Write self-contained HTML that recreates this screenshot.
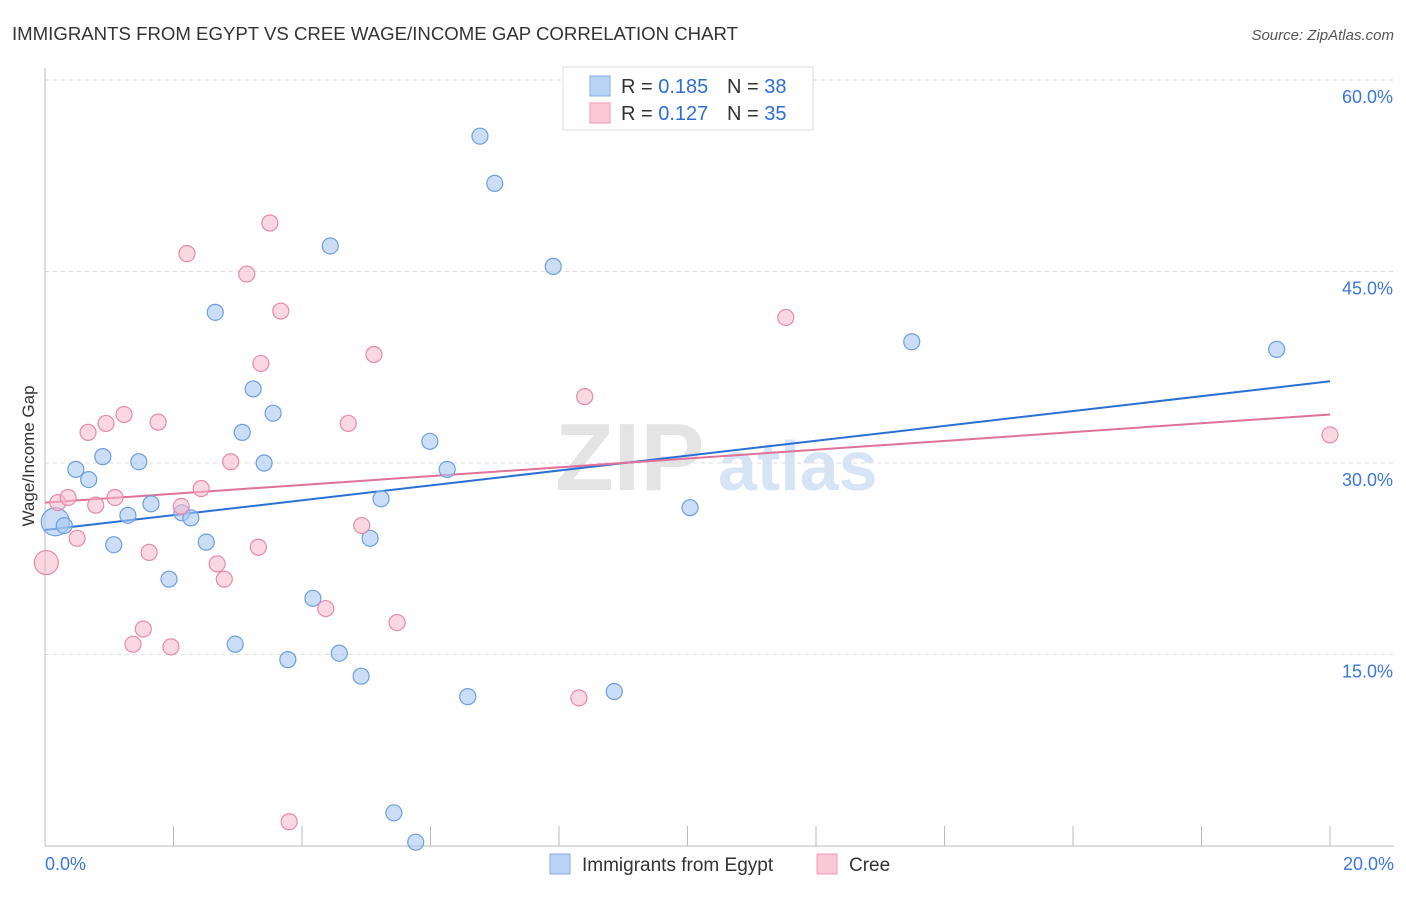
<!DOCTYPE html>
<html><head><meta charset="utf-8"><style>
body{margin:0;background:#fff;font-family:"Liberation Sans",sans-serif;}
svg text{font-family:"Liberation Sans",sans-serif;}
</style></head><body>
<svg id="chart" width="1406" height="892" viewBox="0 0 1406 892">
<text x="12" y="40" font-size="18" fill="#333" textLength="726" lengthAdjust="spacingAndGlyphs">IMMIGRANTS FROM EGYPT VS CREE WAGE/INCOME GAP CORRELATION CHART</text>
<text x="1394" y="40" font-size="15" fill="#555" text-anchor="end" font-style="italic">Source: ZipAtlas.com</text>
<g>
<text x="555" y="490" font-size="96" fill="#e4e4e4" font-family="Liberation Serif" font-weight="bold">ZIP</text>
<text x="718" y="490" font-size="70" fill="#d6e4f5" font-weight="bold">atlas</text>
</g>
<g id="grid"></g>
<g id="axes"></g>
<g id="lines"></g>
<g id="points"></g>
<text transform="translate(34,456) rotate(-90)" font-size="17" fill="#333" text-anchor="middle">Wage/Income Gap</text>
<g>
<rect x="563" y="67" width="250" height="63" fill="#fff" stroke="#ddd"/>
<rect x="590" y="76" width="20" height="20" fill="#b9d3f5" stroke="#85aee6"/>
<rect x="590" y="103" width="20" height="20" fill="#fbc8d7" stroke="#f09ab5"/>
<text x="621" y="93" font-size="20" fill="#333">R = <tspan fill="#2f6fd0">0.185</tspan></text>
<text x="727" y="93" font-size="20" fill="#333">N = <tspan fill="#2f6fd0">38</tspan></text>
<text x="621" y="120" font-size="20" fill="#333">R = <tspan fill="#2f6fd0">0.127</tspan></text>
<text x="727" y="120" font-size="20" fill="#333">N = <tspan fill="#2f6fd0">35</tspan></text>
</g>
<g>
<rect x="550" y="854" width="20" height="20" fill="#b9d3f5" stroke="#85aee6"/>
<text x="582" y="871" font-size="19" fill="#333">Immigrants from Egypt</text>
<rect x="817" y="854" width="20" height="20" fill="#fbc8d7" stroke="#f09ab5"/>
<text x="849" y="871" font-size="19" fill="#333">Cree</text>
</g>
</svg>
<script>
const yTicks=[15,30,45,60];
const yTickLabels=["15.0%","30.0%","45.0%","60.0%"];
const xTickVals=[0,2,4,6,8,10,12,14,16,18,20];
const egyptX=[0.16,0.30,0.48,0.68,0.90,1.07,1.29,1.46,1.65,1.93,2.13,2.27,2.51,2.65,2.96,3.07,3.24,3.41,3.55,3.78,4.17,4.44,4.58,4.92,5.06,5.23,5.43,5.77,5.99,6.26,6.58,6.77,7.00,7.91,8.86,10.04,13.49,19.17];
const egyptY=[25.4,25.1,29.5,28.7,30.5,23.6,25.9,30.1,26.8,20.9,26.1,25.7,23.8,41.8,15.8,32.4,35.8,30.0,33.9,14.6,19.4,47.0,15.1,13.3,24.1,27.2,2.6,0.3,31.7,29.5,11.7,55.6,51.9,45.4,12.1,26.5,39.5,38.9];
const creeX=[0.02,0.20,0.36,0.50,0.67,0.79,0.95,1.09,1.23,1.37,1.53,1.62,1.76,1.96,2.12,2.21,2.43,2.68,2.79,2.89,3.14,3.32,3.36,3.50,3.67,3.80,4.37,4.72,4.93,5.12,5.48,8.31,8.40,11.53,20.0];
const creeY=[22.2,26.9,27.3,24.1,32.4,26.7,33.1,27.3,33.8,15.8,17.0,23.0,33.2,15.6,26.6,46.4,28.0,22.1,20.9,30.1,44.8,23.4,37.8,48.8,41.9,1.9,18.6,33.1,25.1,38.5,17.5,11.6,35.2,41.4,32.2];
const egyptTrend=[24.75,36.4];
const creeTrend=[26.9,33.8];
const NS="http://www.w3.org/2000/svg";
const sx=v=>45+v/20*1285;
const sy=v=>846-v/60*766;
function mk(tag,attrs,parent){const e=document.createElementNS(NS,tag);for(const k in attrs)e.setAttribute(k,attrs[k]);document.getElementById(parent).appendChild(e);return e;}
yTicks.forEach((t,i)=>{
  const l=mk('line',{x1:45,x2:1394,y1:sy(t),y2:sy(t),stroke:'#ddd','stroke-dasharray':'4,4'},'grid');
  
  
  const tx=mk('text',{x:1393,y:sy(t)+23,'font-size':18,fill:'#3b78d8','text-anchor':'end'},'axes');
  tx.textContent=yTickLabels[i];
  
  
});
const ax=mk('line',{x1:45,x2:1394,y1:846,y2:846,stroke:'#bbb'},'axes');


const ay=mk('line',{x1:45,x2:45,y1:68,y2:846,stroke:'#bbb'},'axes');


xTickVals.forEach(t=>{
  const l=mk('line',{x1:sx(t),x2:sx(t),y1:826,y2:846,stroke:'#bbb'},'axes');
  
  
});
[[0,"0.0%","start",45],[20,"20.0%","end",1394]].forEach(a=>{
  const tx=mk('text',{x:a[3],y:870,'font-size':18,fill:'#3b78d8','text-anchor':a[2]},'axes');
  tx.textContent=a[1];
  
  
});
const l1=mk('line',{x1:sx(0),y1:sy(egyptTrend[0]),x2:sx(20),y2:sy(egyptTrend[1]),stroke:'#2a6fd6','stroke-width':2},'lines');


const l2=mk('line',{x1:sx(0),y1:sy(creeTrend[0]),x2:sx(20),y2:sy(creeTrend[1]),stroke:'#e0719a','stroke-width':2},'lines');


egyptX.forEach((x,i)=>{
  const c=mk('circle',{cx:sx(x),cy:sy(egyptY[i]),r:i===0?14:8,fill:'rgba(169,200,240,0.6)',stroke:'#6d9fe0','stroke-width':1.2},'points');
  
  
});
creeX.forEach((x,i)=>{
  const c=mk('circle',{cx:sx(x),cy:sy(creeY[i]),r:i===0?12:8,fill:'rgba(246,184,203,0.55)',stroke:'#e88aa8','stroke-width':1.2},'points');
  
  
});
</script>
</body></html>
